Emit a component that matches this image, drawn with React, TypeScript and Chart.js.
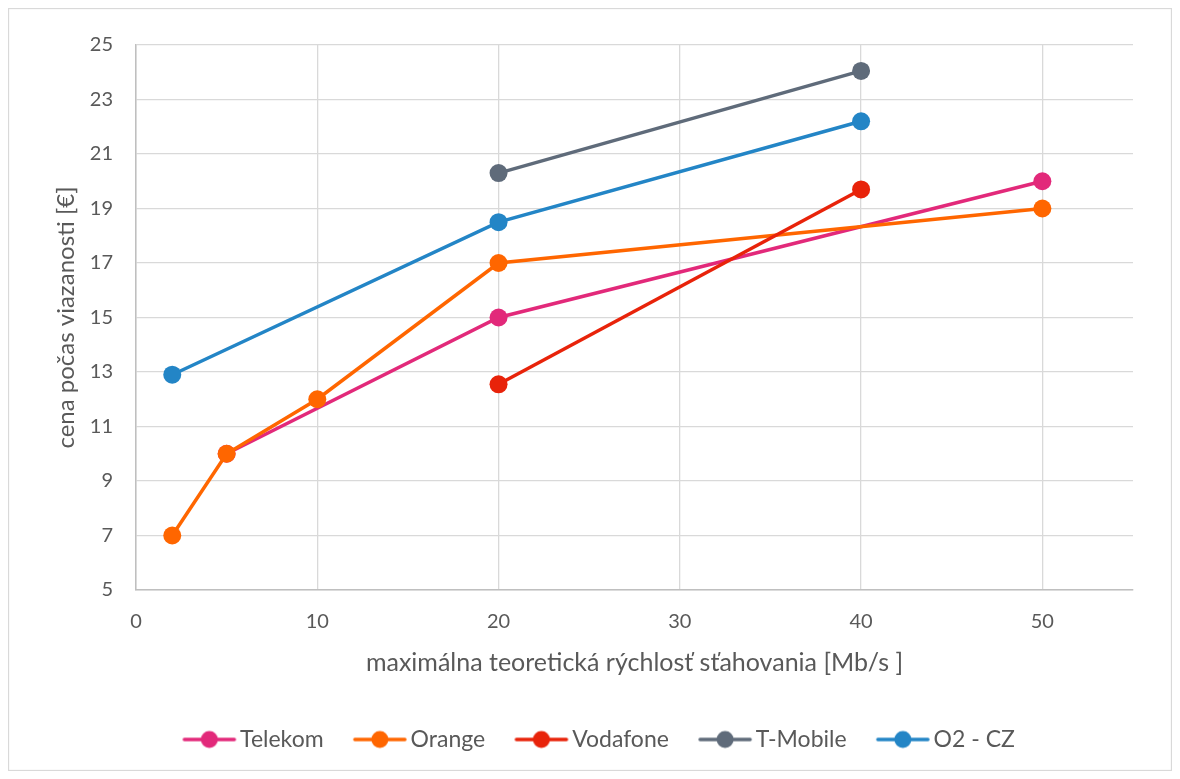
import React, { useEffect, useRef } from "react";
import { Chart, registerables } from "chart.js";

Chart.register(...registerables);

// Download speed [Mb/s] and monthly price [€] per operator
const telekomX = [5, 20, 50];
const telekomY = [10, 15, 20];
const orangeX = [2, 5, 10, 20, 50];
const orangeY = [7, 10, 12, 17, 19];
const vodafoneX = [20, 40];
const vodafoneY = [12.55, 19.7];
const tmobileX = [20, 40];
const tmobileY = [20.3, 24.05];
const o2X = [2, 20, 40];
const o2Y = [12.9, 18.5, 22.2];

const seriesNames = ["Telekom", "Orange", "Vodafone", "T-Mobile", "O2 - CZ"];
const seriesColors = ["#E2297A", "#FF6600", "#E8230A", "#5F6B7A", "#2385C6"];

const xTitle = "maximálna teoretická rýchlosť sťahovania [Mb/s ]";
const yTitle = "cena počas viazanosti [€]";

const FONT = "Lato, 'Open Sans', sans-serif";
const TEXT = "#595959";

function toPoints(xs: number[], ys: number[]) {
  return xs.map((x, i) => ({ x, y: ys[i] }));
}

// Legend swatch: short line with a round marker. The image is wider than the
// swatch so that, when centred in the legend box, it sits flush left of the text.
function legendIcon(color: string): HTMLCanvasElement {
  const c = document.createElement("canvas");
  c.width = 108;
  c.height = 22;
  const ctx = c.getContext("2d")!;
  const x0 = 31;
  ctx.strokeStyle = color;
  ctx.lineWidth = 3.5;
  ctx.lineCap = "round";
  ctx.beginPath();
  ctx.moveTo(x0 + 2, 11);
  ctx.lineTo(x0 + 52, 11);
  ctx.stroke();
  ctx.fillStyle = color;
  ctx.beginPath();
  ctx.arc(x0 + 27, 11, 8.5, 0, Math.PI * 2);
  ctx.fill();
  return c;
}

const frame = {
  id: "frame",
  beforeDraw(chart: any) {
    const { ctx, width, height } = chart;
    ctx.save();
    ctx.fillStyle = "#ffffff";
    ctx.fillRect(0, 0, width, height);
    ctx.strokeStyle = "#d9d9d9";
    ctx.lineWidth = 1.3;
    ctx.strokeRect(0.5, 0.5, width - 1, height - 1);
    ctx.restore();
  },
};

export default function App() {
  const ref = useRef<HTMLCanvasElement>(null);

  useEffect(() => {
    if (!ref.current) return;
    const all = [
      toPoints(telekomX, telekomY),
      toPoints(orangeX, orangeY),
      toPoints(vodafoneX, vodafoneY),
      toPoints(tmobileX, tmobileY),
      toPoints(o2X, o2Y),
    ];
    const icons = seriesColors.map(legendIcon);
    const chart = new Chart(ref.current, {
      type: "line",
      data: {
        datasets: all.map((data, i) => ({
          label: seriesNames[i],
          data,
          borderColor: seriesColors[i],
          backgroundColor: seriesColors[i],
          borderWidth: 3.5,
          pointRadius: 9,
          pointHoverRadius: 9,
          pointBorderWidth: 0,
          tension: 0,
          order: seriesNames.length - i,
        })),
      },
      plugins: [frame],
      options: {
        animation: false,
        responsive: true,
        maintainAspectRatio: false,
        layout: { padding: { left: 44, right: 27, top: 37, bottom: 10 } },
        scales: {
          x: {
            type: "linear",
            min: 0,
            max: 55,
            grid: { color: "#d9d9d9", lineWidth: 1.3, drawTicks: false },
            border: { color: "#bfbfbf", width: 1.5 },
            ticks: {
              stepSize: 10,
              includeBounds: false,
              padding: 20,
              color: TEXT,
              font: { family: FONT, size: 20 },
            },
            title: {
              display: true,
              text: xTitle,
              color: TEXT,
              font: { family: FONT, size: 25 },
              padding: { top: 0, bottom: 21 },
            },
            afterFit(scale: any) {
              scale.height = 109;
            },
          },
          y: {
            type: "linear",
            min: 5,
            max: 25,
            grid: { color: "#d9d9d9", lineWidth: 1.3, drawTicks: false },
            border: { color: "#bfbfbf", width: 1.5 },
            ticks: {
              stepSize: 2,
              padding: 23,
              color: TEXT,
              font: { family: FONT, size: 20 },
            },
            title: {
              display: true,
              text: yTitle,
              color: TEXT,
              font: { family: FONT, size: 24 },
              padding: { top: 0, bottom: 0 },
            },
            afterFit(scale: any) {
              scale.width = 84;
            },
          },
          y2: {
            type: "linear",
            position: "right",
            display: true,
            grid: { display: false, drawTicks: false },
            border: { display: false },
            ticks: { display: false },
            afterFit(scale: any) {
              scale.width = 12;
            },
          },
        },
        plugins: {
          legend: {
            position: "bottom",
            labels: {
              usePointStyle: true,
              pointStyleWidth: 46.5,
              padding: 29,
              color: TEXT,
              font: { family: FONT, size: 23 },
              sort: (a: any, b: any) => a.datasetIndex - b.datasetIndex,
              generateLabels(c: any) {
                const base = Chart.defaults.plugins.legend.labels.generateLabels(c);
                return base.map((l: any) => ({ ...l, pointStyle: icons[l.datasetIndex] }));
              },
            },
          },
          tooltip: { enabled: false },
        },
      },
    });
    return () => chart.destroy();
  }, []);

  return (
    <div style={{ width: 1164, height: 763, position: "relative" }}>
      <canvas ref={ref} />
    </div>
  );
}
